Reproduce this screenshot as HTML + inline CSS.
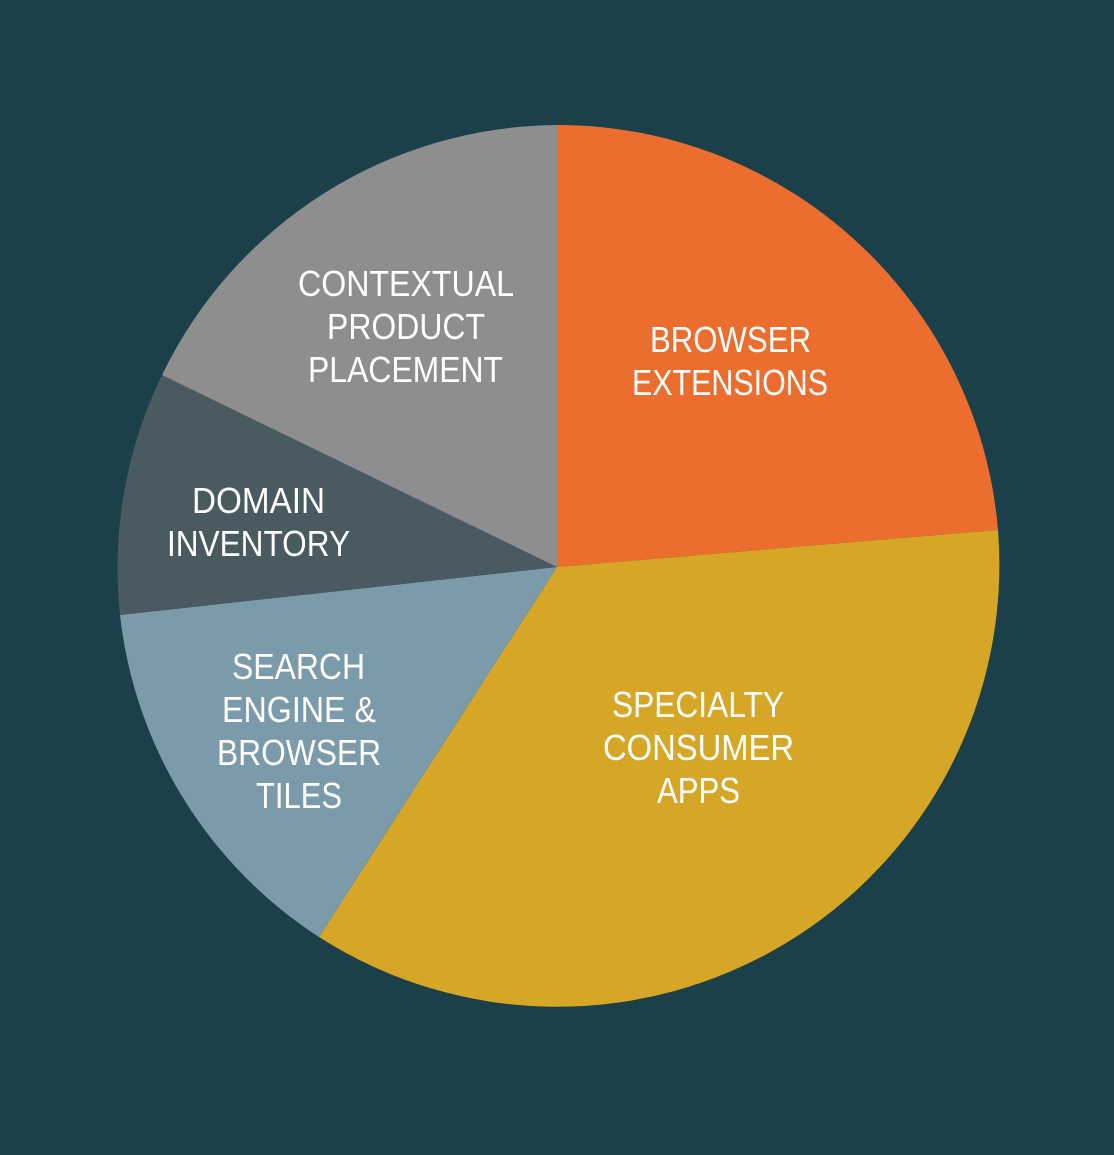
<!DOCTYPE html>
<html><head><style>html,body{margin:0;padding:0;background:#1c4049;}svg{display:block}</style></head>
<body>
<svg width="1114" height="1155" viewBox="0 0 1114 1155" xmlns="http://www.w3.org/2000/svg">
<rect width="1114" height="1155" fill="#1c4049"/>
<path d="M557,567 L557,125 A442,442 0 0 1 998,530 Z" fill="#ec6e2e"/>
<path d="M557,567 L998,530 A442,442 0 0 1 319,937 Z" fill="#d6a727"/>
<path d="M557,567 L319,937 A442,442 0 0 1 120,615 Z" fill="#7b9bab"/>
<path d="M557,567 L120,615 A442,442 0 0 1 162,375 Z" fill="#4a5a61"/>
<path d="M557,567 L162,375 A442,442 0 0 1 557,125 Z" fill="#8e8e8e"/>
<g fill="#fff" font-family="Liberation Sans, sans-serif" font-size="36" lengthAdjust="spacingAndGlyphs">
<text x="650" y="352" textLength="161" lengthAdjust="spacingAndGlyphs">BROWSER</text>
<text x="632" y="395" textLength="196" lengthAdjust="spacingAndGlyphs">EXTENSIONS</text>
<text x="298" y="296" textLength="216" lengthAdjust="spacingAndGlyphs">CONTEXTUAL</text>
<text x="327" y="339" textLength="158" lengthAdjust="spacingAndGlyphs">PRODUCT</text>
<text x="308" y="382" textLength="195" lengthAdjust="spacingAndGlyphs">PLACEMENT</text>
<text x="192" y="513" textLength="133" lengthAdjust="spacingAndGlyphs">DOMAIN</text>
<text x="167" y="556" textLength="183" lengthAdjust="spacingAndGlyphs">INVENTORY</text>
<text x="232" y="679" textLength="133" lengthAdjust="spacingAndGlyphs">SEARCH</text>
<text x="222" y="722" textLength="154" lengthAdjust="spacingAndGlyphs">ENGINE &amp;</text>
<text x="217" y="765" textLength="164" lengthAdjust="spacingAndGlyphs">BROWSER</text>
<text x="256" y="808" textLength="86" lengthAdjust="spacingAndGlyphs">TILES</text>
<text x="612" y="717" textLength="172" lengthAdjust="spacingAndGlyphs">SPECIALTY</text>
<text x="603" y="760" textLength="191" lengthAdjust="spacingAndGlyphs">CONSUMER</text>
<text x="657" y="803" textLength="83" lengthAdjust="spacingAndGlyphs">APPS</text>
</g>
</svg>
</body></html>
